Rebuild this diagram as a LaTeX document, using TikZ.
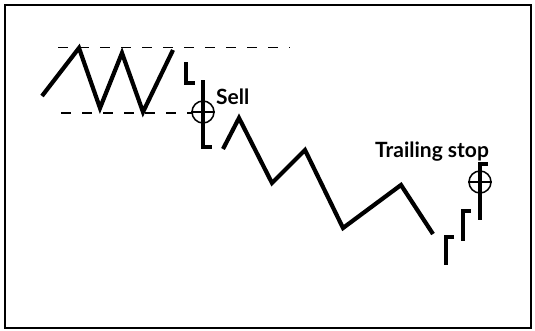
\documentclass[tikz,border=0pt]{standalone}
\usepackage{fontspec}
\setmainfont{Lato}

\begin{document}
\begin{tikzpicture}[x=1pt, y=-1pt, every node/.style={font=\fontsize{21}{24}\selectfont\bfseries},
	price/.style={line width=4.2pt, line join=miter},
	bar/.style={line width=4.8pt, line join=miter},
	level/.style={line width=1.5pt, dash pattern=on 10pt off 11pt},
	stopmark/.style={draw, circle, line width=1.5pt, minimum size=22pt, inner sep=0pt}]
	\useasboundingbox (0,0) rectangle (535,330);
	\draw[line width=2pt] (5,5) rectangle (531,328);
	% trading range
	\draw[level] (58,47.5) -- (290,47.5);
	\draw[level] (61,113) -- (192,113);
	\draw[price] (42,96) -- (79,48) -- (100,108) -- (122,53) -- (143,112) -- (173,50);
	% downtrend
	\draw[price] (223,149) -- (239,118) -- (272,183) -- (305,150) -- (343,228) -- (401,185) -- (433,234);
	% bars
	\foreach \x/\a/\b in {186/62/83, 203/80/147} {\draw[bar] (\x,\a) -- (\x,\b) -- (\x+9,\b);}
	\foreach \x/\a/\b in {446/237/265, 463/211/241, 480/164/220} {\draw[bar] (\x+8,\a) -- (\x,\a) -- (\x,\b);}
	% stops
	\node[stopmark] (sell) at (203,112) {};
	\draw[line width=1.5pt] (sell.west) -- (sell.east);
	\node[anchor=base west, inner sep=0pt] (selltext) at (216,104) {Sell};
	\node[stopmark] (trail) at (480,182) {};
	\draw[line width=1.5pt] (trail.west) -- (trail.east);
	\node[anchor=base west, inner sep=0pt] (trailtext) at (375,157) {Trailing stop};
\end{tikzpicture}
\end{document}
